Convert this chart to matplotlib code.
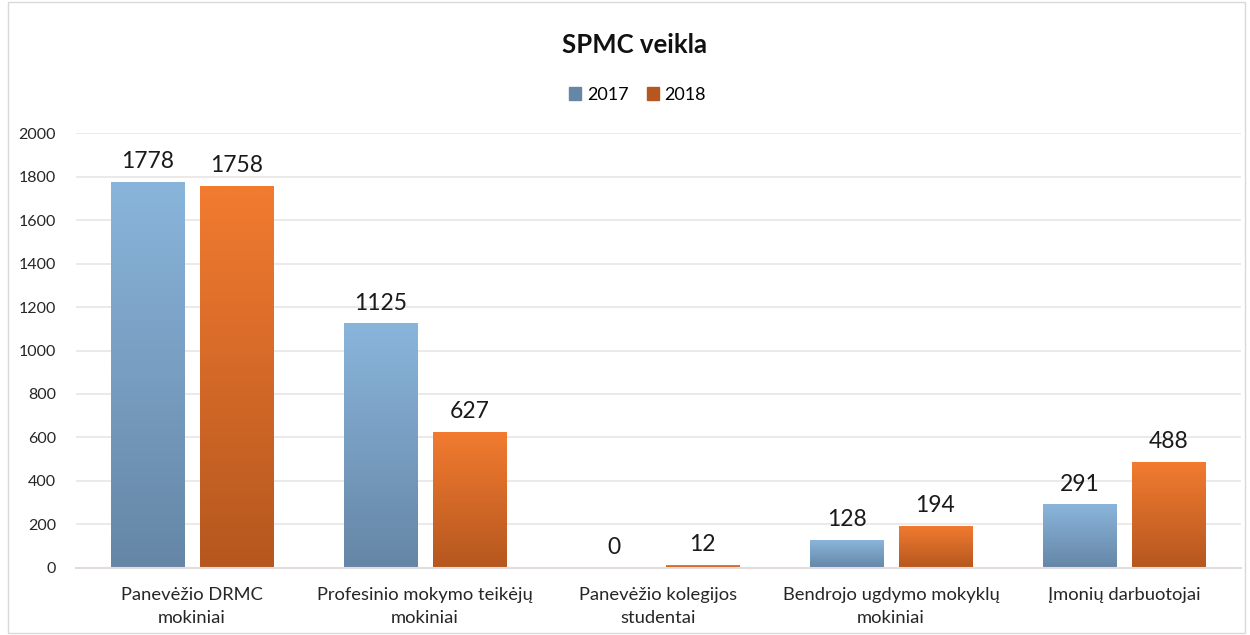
import numpy as np
import matplotlib
matplotlib.use("Agg")
import matplotlib.pyplot as plt
from matplotlib.colors import LinearSegmentedColormap
from matplotlib.patches import Rectangle

plt.rcParams["font.family"] = ["Lato", "DejaVu Sans"]

# data
categories = [
    "Panevėžio DRMC\nmokiniai",
    "Profesinio mokymo teikėjų\nmokiniai",
    "Panevėžio kolegijos\nstudentai",
    "Bendrojo ugdymo mokyklų\nmokiniai",
    "Įmonių darbuotojai",
]
series_names = ["2017", "2018"]
values_2017 = [1778, 1125, 0, 128, 291]
values_2018 = [1758, 627, 12, 194, 488]
y_ticks = [0, 200, 400, 600, 800, 1000, 1200, 1400, 1600, 1800, 2000]

# gradient (top colour, bottom colour)
grad_2017 = ("#8AB5DB", "#6586A6")
grad_2018 = ("#F27B30", "#B5571F")

fig = plt.figure(figsize=(12.5, 6.35), dpi=100)
ax = fig.add_axes([0.0605, 0.106, 0.932, 0.684])

x = np.arange(len(categories))
w = 0.315
off = 0.19


def gradient_bars(ax, xs, vals, colors, label):
    cmap = LinearSegmentedColormap.from_list("g", [colors[1], colors[0]])
    bars = ax.bar(xs, vals, w, color=colors[0], label=label, zorder=2)
    grad = np.linspace(0, 1, 256).reshape(-1, 1)
    for b in bars:
        h = b.get_height()
        if h <= 0:
            continue
        x0 = b.get_x()
        im = ax.imshow(grad, cmap=cmap, origin="lower", aspect="auto",
                       extent=[x0, x0 + w, 0, max(h, 1)], zorder=2.5)
        im.set_clip_path(b)
    return bars


b1 = gradient_bars(ax, x - off, values_2017, grad_2017, series_names[0])
b2 = gradient_bars(ax, x + off, values_2018, grad_2018, series_names[1])

for bars, vals in ((b1, values_2017), (b2, values_2018)):
    for b, v in zip(bars, vals):
        ax.text(b.get_x() + b.get_width() / 2, v + 45, str(v),
                ha="center", va="bottom", fontsize=16.5, color="#1a1a1a", zorder=4)

ax.set_xlim(-0.5, len(categories) - 0.5)
ax.set_ylim(0, 2000)
ax.set_yticks(y_ticks)
ax.set_xticks(x)
ax.set_xticklabels(categories, fontsize=13.2, color="#262626", linespacing=1.5)
ax.tick_params(axis="y", labelsize=11.5, colors="#262626", length=0, pad=14)
ax.tick_params(axis="x", length=0, pad=14)
ax.grid(axis="y", color="#EAE5E5", linewidth=1.2, zorder=0)
ax.set_axisbelow(True)
for s in ["top", "right", "left"]:
    ax.spines[s].set_visible(False)
ax.spines["bottom"].set_color("#E2DCDC")
ax.spines["bottom"].set_linewidth(1.5)

fig.text(0.508, 0.929, "SPMC veikla", ha="center", va="center",
         fontsize=18.5, fontweight="bold", color="#111111")

handles = [Rectangle((0, 0), 1, 1, color=grad_2017[1]),
           Rectangle((0, 0), 1, 1, color=grad_2018[1])]
fig.legend(handles, series_names, loc="center", bbox_to_anchor=(0.51, 0.851),
           ncol=2, frameon=False, fontsize=13, handlelength=0.7, handleheight=0.7,
           handletextpad=0.3, columnspacing=1.0)

fig.patches.append(Rectangle((0.006, 0.003), 0.99, 0.994, transform=fig.transFigure,
                             fill=False, edgecolor="#D9D9D9", linewidth=1.0))

fig.savefig("out.png", dpi=100)
